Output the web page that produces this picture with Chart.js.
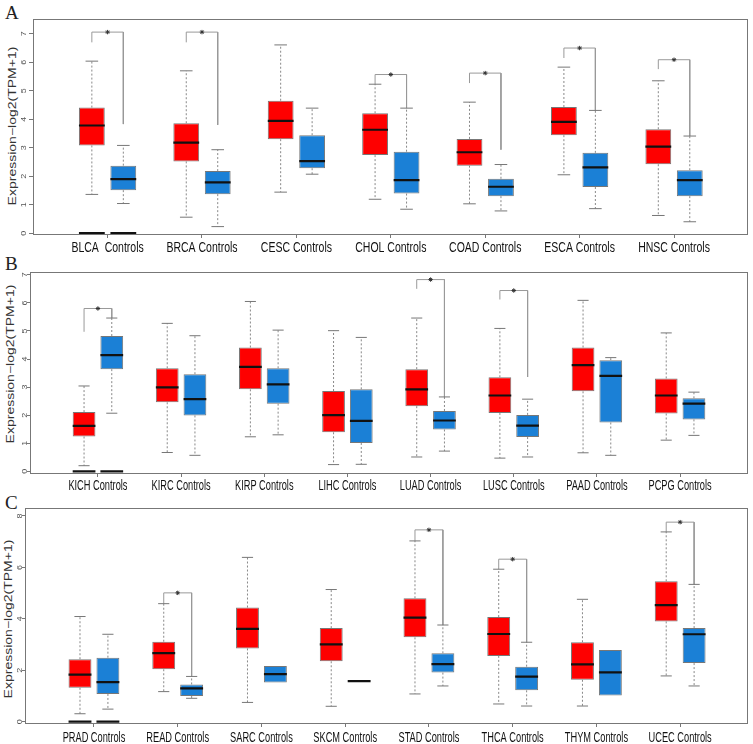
<!DOCTYPE html>
<html>
<head>
<meta charset="utf-8">
<script src="https://cdn.jsdelivr.net/npm/chart.js@4.4.0/dist/chart.umd.min.js"></script>
<style>
  body { margin: 0; background: #fff; width: 753px; height: 744px; position: relative; overflow: hidden;
         font-family: "Liberation Sans", Arial, sans-serif; }
  .panel { position: absolute; left: 0; }
  .letter { position: absolute; left: 5px; font-family: "Liberation Serif", "Times New Roman", serif;
            font-size: 19px; line-height: 19px; color: #222; }
  .ytitle { position: absolute; font-size: 14px; color: #333; white-space: nowrap; line-height: 16px;
            transform: translate(-50%, -50%) rotate(-90deg) scaleY(0.75); }
</style>
</head>
<body>
<div class="letter" style="top:3px">A</div>
<div class="letter" style="top:254px">B</div>
<div class="letter" style="top:493px">C</div>
<div class="ytitle" style="left:12px; top:126px">Expression−log2(TPM+1)</div>
<div class="ytitle" style="left:10px; top:364px">Expression−log2(TPM+1)</div>
<div class="ytitle" style="left:8px; top:619px">Expression−log2(TPM+1)</div>

<canvas id="chartA" class="panel" style="top:0px" width="753" height="258"></canvas>
<canvas id="chartB" class="panel" style="top:252px" width="753" height="245"></canvas>
<canvas id="chartC" class="panel" style="top:497px" width="753" height="247"></canvas>

<script>
// box summaries: [lower whisker, q1, median, q3, upper whisker]
// significance: [bracket height, tumour leg end, control leg end] or null

// Panel A
const labelsA = ['BLCA  Controls', 'BRCA Controls', 'CESC Controls', 'CHOL Controls',
                 'COAD Controls', 'ESCA Controls', 'HNSC Controls'];
const tumorA = [
  [1.36, 3.08, 3.78, 4.41, 6.04],
  [0.56, 2.52, 3.18, 3.86, 5.70],
  [1.44, 3.30, 3.94, 4.65, 6.61],
  [1.19, 2.74, 3.63, 4.21, 5.23],
  [1.03, 2.37, 2.84, 3.31, 4.60],
  [2.05, 3.44, 3.91, 4.43, 5.83],
  [0.62, 2.42, 3.04, 3.65, 5.35]
];
const controlA = [
  [1.04, 1.51, 1.90, 2.37, 3.08],
  [0.23, 1.37, 1.78, 2.18, 2.93],
  [2.07, 2.28, 2.53, 3.44, 4.39],
  [0.84, 1.39, 1.86, 2.86, 4.39],
  [0.78, 1.30, 1.63, 1.91, 2.41],
  [0.86, 1.62, 2.31, 2.82, 4.31],
  [0.40, 1.30, 1.86, 2.21, 3.41]
];
const sigA = [[7.06, 6.70, 3.83], [7.06, 6.70, 3.80], null, [5.57, 5.23, 4.39],
              [5.62, 5.27, 2.93], [6.50, 6.15, 4.31], [6.09, 5.76, 3.41]];
const zeroA = [0];
const yTicksA = [0, 1, 2, 3, 4, 5, 6, 7];

// Panel B
const labelsB = ['KICH Controls', 'KIRC Controls', 'KIRP Controls', 'LIHC Controls',
                 'LUAD Controls', 'LUSC Controls', 'PAAD Controls', 'PCPG Controls'];
const tumorB = [
  [0.20, 1.24, 1.62, 2.11, 3.04],
  [0.67, 2.46, 2.99, 3.67, 5.27],
  [1.23, 2.92, 3.72, 4.41, 6.05],
  [0.24, 1.39, 2.00, 2.86, 5.01],
  [0.51, 2.32, 2.92, 3.64, 5.46],
  [0.47, 2.08, 2.70, 3.35, 5.09],
  [0.66, 2.85, 3.78, 4.41, 6.09],
  [1.11, 2.06, 2.70, 3.31, 4.93]
];
const controlB = [
  [2.07, 3.64, 4.14, 4.82, 5.46],
  [0.57, 1.99, 2.57, 3.46, 4.83],
  [1.30, 2.41, 3.10, 3.67, 5.03],
  [0.25, 1.01, 1.80, 2.92, 4.77],
  [0.72, 1.49, 1.81, 2.15, 2.65],
  [0.51, 1.22, 1.63, 2.01, 2.57],
  [0.57, 1.74, 3.40, 3.96, 4.05],
  [1.28, 1.85, 2.41, 2.60, 2.82]
];
const sigB = [[5.80, 4.97, 5.46], null, null, null, [6.83, 6.50, 2.65], [6.44, 6.12, 3.36], null, null];
const zeroB = [0];
const yTicksB = [0, 1, 2, 3, 4, 5, 6, 7];

// Panel C
const labelsC = ['PRAD Controls', 'READ Controls', 'SARC Controls', 'SKCM Controls',
                 'STAD Controls', 'THCA Controls', 'THYM Controls', 'UCEC Controls'];
const tumorC = [
  [0.31, 1.32, 1.83, 2.43, 4.09],
  [1.17, 2.04, 2.67, 3.11, 4.59],
  [0.75, 2.85, 3.61, 4.44, 6.39],
  [0.60, 2.35, 3.01, 3.64, 5.14],
  [1.08, 3.28, 4.05, 4.80, 7.03],
  [0.69, 2.56, 3.41, 4.07, 5.93],
  [0.61, 1.63, 2.23, 3.09, 4.76],
  [1.78, 3.90, 4.53, 5.46, 7.38]
];
const controlC = [
  [0.49, 1.08, 1.54, 2.49, 3.40],
  [0.91, 1.00, 1.30, 1.45, 1.76],
  [1.52, 1.52, 1.85, 2.17, 2.17],
  [1.58, 1.58, 1.58, 1.58, 1.58],
  [1.39, 1.91, 2.24, 2.66, 3.76],
  [0.61, 1.22, 1.75, 2.14, 3.09],
  [1.02, 1.02, 1.92, 2.79, 2.79],
  [1.39, 2.28, 3.40, 3.64, 5.34]
];
const sigC = [null, [5.01, 4.59, 1.76], null, null, [7.46, 7.03, 3.76], [6.32, 5.93, 3.09], null, [7.76, 7.38, 5.34]];
const zeroC = [0];
const yTicksC = [0, 2, 4, 6, 8];

const RED = '#fe0000';
const BLUE = '#1b80d6';
const BOX_HALF = 0.41;
const CAP_HALF = 0.2;

// turn [x0, y0, x1, y1, ...] pieces into one broken polyline
function segs(list) {
  const pts = [];
  list.forEach(p => {
    for (let i = 0; i < p.length; i += 2) pts.push({ x: p[i], y: p[i + 1] });
    pts.push({ x: p[p.length - 2], y: null });
  });
  return pts;
}

const textPlugin = {
  id: 'rtext',
  afterDraw(chart, args, o) {
    const { ctx, chartArea: a } = chart;
    const xs = chart.scales.x, ys = chart.scales.y;
    ctx.save();
    ctx.strokeStyle = '#777';
    ctx.lineWidth = 1;
    ctx.strokeRect(a.left + 0.5, a.top + 0.5, a.right - a.left - 1, a.bottom - a.top);

    ctx.fillStyle = '#111';
    ctx.font = '14px "Liberation Sans", Arial, sans-serif';
    ctx.textAlign = 'center';
    ctx.textBaseline = 'alphabetic';
    xs.ticks.forEach((t, i) => {
      ctx.save();
      ctx.translate(xs.getPixelForValue(t.value), a.bottom + o.labelOffset);
      ctx.scale(o.squeeze, 1);
      ctx.fillText(o.labels[i], 0, 0);
      ctx.restore();
    });

    ctx.fillStyle = '#555';
    ctx.font = '9px "Liberation Sans", Arial, sans-serif';
    ctx.textBaseline = 'middle';
    ys.ticks.forEach(t => {
      ctx.save();
      ctx.translate(a.left + o.numOffset, ys.getPixelForValue(t.value));
      ctx.rotate(-Math.PI / 2);
      ctx.scale(1, 0.7);
      ctx.fillText(String(t.value), 0, 0);
      ctx.restore();
    });
    ctx.restore();
  }
};

function makePanel(id, labels, tumor, control, sig, zero, yTicks, cfg) {
  const boxes = (arr, off) => arr.map((s, i) => ({ x: 3 * i + off, y: [s[1], s[3]] }));
  const whisk = [], caps = [], meds = [], brackets = [], stars = [], zeros = [];
  [[tumor, 1], [control, 2]].forEach(([arr, off]) => {
    arr.forEach((s, i) => {
      const c = 3 * i + off;
      if (s[4] > s[3]) {
        whisk.push([c, s[3], c, s[4]]);
        caps.push([c - CAP_HALF, s[4], c + CAP_HALF, s[4]]);
      }
      if (s[0] < s[1]) {
        whisk.push([c, s[1], c, s[0]]);
        caps.push([c - CAP_HALF, s[0], c + CAP_HALF, s[0]]);
      }
      meds.push([c - BOX_HALF, s[2], c + BOX_HALF, s[2]]);
    });
  });
  sig.forEach((g, i) => {
    if (!g) return;
    const t = 3 * i + 1, c = 3 * i + 2;
    brackets.push([t, g[1], t, g[0], c, g[0], c, g[2]]);
    stars.push({ x: 3 * i + 1.5, y: g[0] });
  });
  zero.forEach(i => {
    [1, 2].forEach(off => zeros.push([3 * i + off - BOX_HALF, 0, 3 * i + off + BOX_HALF, 0]));
  });

  const lineDs = (data, color, width, dash, order) => ({
    type: 'line', data: segs(data), borderColor: color, borderWidth: width, borderDash: dash,
    pointRadius: 0, spanGaps: false, tension: 0, order: order
  });

  new Chart(document.getElementById(id), {
    type: 'bar',
    data: {
      datasets: [
        { data: boxes(tumor, 1), backgroundColor: RED, borderColor: '#777', borderWidth: 1,
          borderSkipped: false, grouped: false, barPercentage: 0.82, categoryPercentage: 1, order: 5 },
        { data: boxes(control, 2), backgroundColor: BLUE, borderColor: '#777', borderWidth: 1,
          borderSkipped: false, grouped: false, barPercentage: 0.82, categoryPercentage: 1, order: 5 },
        lineDs(whisk, '#888', 1, [2, 2], 4),
        lineDs(caps, '#777', 1, [], 3),
        lineDs(brackets, '#999', 1, [], 3),
        lineDs(meds, '#111', 2.2, [], 1),
        lineDs(zeros, '#111', 2.2, [], 1),
        { type: 'line', data: stars, showLine: false, pointStyle: 'star', pointRadius: 2.2,
          pointBorderColor: '#333', pointBorderWidth: 1, order: 0 }
      ]
    },
    options: {
      responsive: false,
      animation: false,
      events: [],
      layout: { padding: { top: cfg.padTop, right: 3, left: 0, bottom: 0 } },
      plugins: {
        legend: { display: false },
        tooltip: { enabled: false },
        rtext: { labels: labels, squeeze: cfg.squeeze, labelOffset: cfg.labelOffset, numOffset: cfg.numOffset }
      },
      scales: {
        x: {
          type: 'linear', min: cfg.xMin, max: cfg.xMax, offset: false,
          afterBuildTicks: s => { s.ticks = labels.map((_, i) => ({ value: 3 * i + 1.5 })); },
          afterFit: s => { s.height = cfg.xHeight; },
          ticks: { display: false },
          grid: { drawOnChartArea: false, drawTicks: true, tickLength: 4, color: '#777', offset: false },
          border: { display: false }
        },
        y: {
          min: cfg.yMin, max: cfg.yMax,
          afterBuildTicks: s => { s.ticks = yTicks.map(v => ({ value: v })); },
          afterFit: s => { s.width = cfg.yWidth; },
          ticks: { display: false },
          grid: { drawOnChartArea: false, drawTicks: true, tickLength: cfg.tickLen, color: '#777' },
          border: { display: false }
        }
      }
    },
    plugins: [textPlugin]
  });
}

makePanel('chartA', labelsA, tumorA, controlA, sigA, zeroA, yTicksA,
  { xMin: -0.87, xMax: 21.85, yMin: -0.03, yMax: 7.52, padTop: 19, yWidth: 33, xHeight: 24,
    squeeze: 0.75, labelOffset: 18, numOffset: -9, tickLen: 4 });
makePanel('chartB', labelsB, tumorB, controlB, sigB, zeroB, yTicksB,
  { xMin: -0.95, xMax: 24.95, yMin: -0.06, yMax: 7.10, padTop: 20, yWidth: 30, xHeight: 24,
    squeeze: 0.66, labelOffset: 17, numOffset: -5, tickLen: 3 });
makePanel('chartC', labelsC, tumorC, controlC, sigC, zeroC, yTicksC,
  { xMin: -0.97, xMax: 24.93, yMin: -0.05, yMax: 8.31, padTop: 11, yWidth: 25, xHeight: 21,
    squeeze: 0.66, labelOffset: 19, numOffset: -5, tickLen: 3 });
</script>
</body>
</html>
